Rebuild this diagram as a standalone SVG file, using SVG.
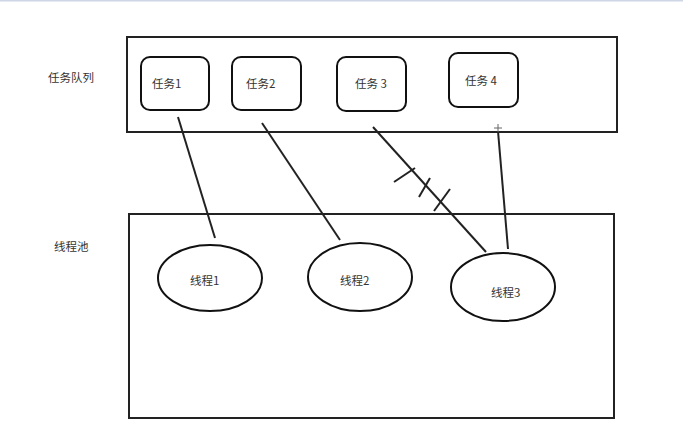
<svg xmlns="http://www.w3.org/2000/svg" width="683" height="437" viewBox="0 0 683 437">
<style>
.box{fill:#fff;stroke:#222;stroke-width:2}
.node{fill:#fff;stroke:#111;stroke-width:2}
.lbl{font-family:"Noto Sans CJK SC","Liberation Sans",sans-serif;font-size:11.5px;fill:#333;dominant-baseline:central}
.con{stroke:#222;stroke-width:2;fill:none}
</style>
<rect width="683" height="437" fill="#fff"/>
<rect x="0" y="0" width="683" height="1.5" fill="#cfd6e6"/>
<g id="queue-frame">
<rect class="box" x="127" y="37" width="490" height="95"/>
<text class="lbl" x="48" y="77">任务队列</text>
</g>
<g id="pool-frame">
<rect class="box" x="129" y="214" width="485" height="204"/>
<text class="lbl" x="54" y="246">线程池</text>
</g>
<g id="task1">
<rect class="node" x="141" y="57" width="68" height="53" rx="9"/>
<text class="lbl" x="152" y="83">任务1</text>
</g>
<g id="task2">
<rect class="node" x="232" y="57" width="69" height="53" rx="9"/>
<text class="lbl" x="246" y="83">任务2</text>
</g>
<g id="task3">
<rect class="node" x="337" y="57" width="69" height="54" rx="9"/>
<text class="lbl" x="355" y="83">任务 3</text>
</g>
<g id="task4">
<rect class="node" x="449" y="53" width="69" height="54" rx="9"/>
<text class="lbl" x="465" y="80">任务 4</text>
</g>
<g id="thread1">
<ellipse class="node" cx="210" cy="278" rx="52" ry="33"/>
<text class="lbl" x="190" y="280">线程1</text>
</g>
<g id="thread2">
<ellipse class="node" cx="360" cy="277" rx="52" ry="34"/>
<text class="lbl" x="340" y="280">线程2</text>
</g>
<g id="thread3">
<ellipse class="node" cx="503" cy="287" rx="52" ry="34"/>
<text class="lbl" x="491" y="292">线程3</text>
</g>
<g id="connectors">
<line class="con" x1="178" y1="117" x2="215" y2="238"/>
<line class="con" x1="262" y1="123" x2="340" y2="240"/>
<line class="con" x1="373" y1="127" x2="486" y2="252"/>
<line class="con" x1="498" y1="131" x2="508" y2="249"/>
<line class="con" x1="394" y1="182" x2="415" y2="168"/>
<line class="con" x1="419" y1="197" x2="430" y2="178"/>
<line class="con" x1="434" y1="211" x2="450" y2="189"/>
<path d="M494 128H502M498 124V132" stroke="#666" stroke-width="1" fill="none"/>
</g>
</svg>
